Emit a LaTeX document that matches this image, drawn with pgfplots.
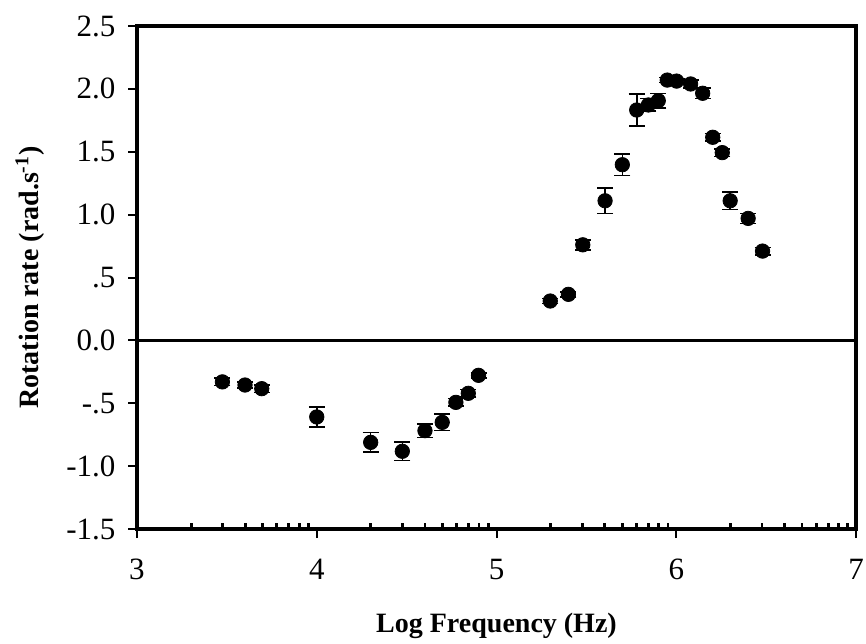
\documentclass[border=0pt]{standalone}
\usepackage{pgfplots}
\pgfplotsset{compat=1.18}
\usepackage{fontspec}
\setmainfont{Liberation Serif}
\begin{document}
\begin{tikzpicture}
\begin{axis}[
  at={(0,0)}, anchor=south west,
  width=359.5pt, height=251.5pt, scale only axis,
  xmin=3, xmax=7, ymin=-1.5, ymax=2.5,
  axis line style={line width=1.6pt},
  xtick={3,4,5,6,7},
  ytick={-1.5,-1,-0.5,0,0.5,1,1.5,2,2.5},
  yticklabels={-1.5,-1.0,-.5,0.0,.5,1.0,1.5,2.0,2.5},
  xticklabels={3,4,5,6,7},
  tick align=outside,
  xtick pos=bottom, ytick pos=left,
  major tick length=4.5pt,
  tick style={line width=1pt, black},
  extra x ticks={3.301,3.477,3.602,3.699,3.778,3.845,3.903,3.954,
                 4.301,4.477,4.602,4.699,4.778,4.845,4.903,4.954,
                 5.301,5.477,5.602,5.699,5.778,5.845,5.903,5.954,
                 6.301,6.477,6.602,6.699,6.778,6.845,6.903,6.954},
  extra x tick labels={},
  extra x tick style={tick align=inside, major tick length=3pt, tick style={line width=1.4pt}},
  ticklabel style={font=\fontsize{15.5}{18}\selectfont},
  xticklabel style={yshift=-7pt},
  yticklabel style={xshift=-2.8pt},
  xlabel={\textbf{Log Frequency (Hz)}},
  ylabel={\textbf{Rotation rate (rad.s\textsuperscript{-1})}},
  label style={font=\fontsize{14}{16}\selectfont},
  xlabel style={at={(axis description cs:0.5,0)}, anchor=base, yshift=-51.5pt},
  ylabel style={at={(axis description cs:-0.1488,0.5)}, anchor=center},
  clip=false,
]
\addplot[line width=1.6pt, black] coordinates {(3,0) (7,0)};
\addplot[only marks, mark=*, mark size=3.6pt, black,
  error bars/.cd, y dir=both, y explicit,
  error bar style={line width=0.8pt, black},
  error mark options={line width=0.8pt, mark size=4pt, black, rotate=90}]
  table[x=x, y=y, y error=e] {
x y e
3.475 -0.33 0.03
3.601 -0.355 0.025
3.694 -0.384 0.03
4.00 -0.609 0.078
4.30 -0.811 0.078
4.476 -0.882 0.072
4.602 -0.718 0.053
4.698 -0.652 0.066
4.774 -0.493 0.03
4.843 -0.421 0.03
4.90 -0.278 0.02
5.299 0.313 0.02
5.40 0.366 0.02
5.48 0.76 0.04
5.604 1.11 0.10
5.70 1.397 0.087
5.78 1.832 0.127
5.845 1.872 0.05
5.90 1.906 0.057
5.95 2.07 0.02
6.002 2.062 0.02
6.08 2.039 0.03
6.147 1.965 0.04
6.203 1.615 0.03
6.256 1.493 0.03
6.30 1.11 0.07
6.40 0.97 0.04
6.48 0.71 0.03
};
\end{axis}
\pgfresetboundingbox
\path[use as bounding box] (-68.5pt,-57pt) rectangle (364.5pt,264.5pt);
\end{tikzpicture}
\end{document}
